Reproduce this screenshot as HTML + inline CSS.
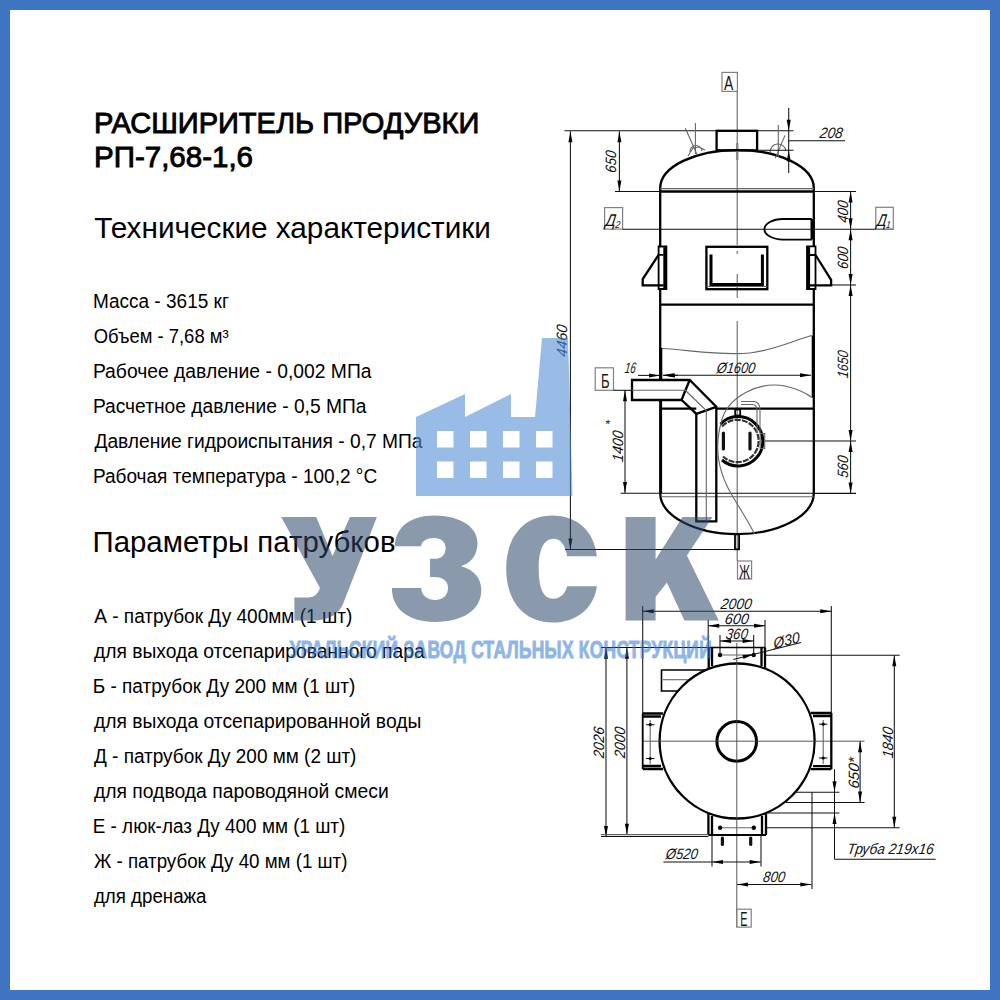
<!DOCTYPE html>
<html><head><meta charset="utf-8">
<style>
html,body{margin:0;padding:0;background:#fff;}
body{width:1000px;height:1000px;overflow:hidden;position:relative;}
.frame{position:absolute;left:0;top:0;width:980px;height:980px;border:10px solid #3e74c0;}
svg{position:absolute;left:0;top:0;}
#drawing .k{fill:none;stroke:#000;stroke-width:2.3;}
#drawing .kk{fill:none;stroke:#000;stroke-width:3;}
#drawing .k2{fill:none;stroke:#000;stroke-width:1.8;}
#drawing .t{fill:none;stroke:#111;stroke-width:1.05;}
#drawing .t2{fill:none;stroke:#000;stroke-width:1.6;}
#drawing .g{fill:none;stroke:#666;stroke-width:1.1;}
#drawing .gd{fill:none;stroke:#777;stroke-width:1;stroke-dasharray:4 2;}
#drawing .gk{fill:none;stroke:#888;stroke-width:2.5;}
#drawing .hh{fill:none;stroke:#111;stroke-width:3.2;stroke-linecap:round;}
#drawing .gd2{fill:none;stroke:#333;stroke-width:2.2;stroke-dasharray:6 1.2;}
#drawing .ax{fill:none;stroke:#444;stroke-width:0.9;}
#drawing .lb{fill:none;stroke:#808080;stroke-width:1.2;}
#drawing .ar{fill:#000;stroke:none;}
#drawing .dot{fill:#000;stroke:none;}
#drawing .dt{font-family:"Liberation Sans",sans-serif;font-style:italic;fill:#111;}
#drawing .lt{font-family:"Liberation Sans",sans-serif;fill:#1a1a1a;}
</style></head>
<body>
<div class="frame"></div>
<svg width="1000" height="1000" viewBox="0 0 1000 1000">
<g font-family="Liberation Sans, sans-serif" fill="#000">
<text x="94.00" y="133.3" font-size="29" font-weight="normal" stroke="#000" stroke-width="0.9" textLength="385.35" lengthAdjust="spacingAndGlyphs">РАСШИРИТЕЛЬ ПРОДУВКИ</text>
<text x="94.00" y="167.3" font-size="29" font-weight="normal" stroke="#000" stroke-width="0.9" textLength="159.00" lengthAdjust="spacingAndGlyphs">РП-7,68-1,6</text>
<text x="94.25" y="237.8" font-size="30" textLength="396.70" lengthAdjust="spacingAndGlyphs">Технические характеристики</text>
<g font-size="19.5">
<text x="92.88" y="308.4" textLength="135.95" lengthAdjust="spacingAndGlyphs">Масса - 3615 кг</text>
<text x="93.63" y="343.4" textLength="134.95" lengthAdjust="spacingAndGlyphs">Объем - 7,68 м³</text>
<text x="92.88" y="378.4" textLength="278.65" lengthAdjust="spacingAndGlyphs">Рабочее давление - 0,002 МПа</text>
<text x="92.88" y="413.4" textLength="273.55" lengthAdjust="spacingAndGlyphs">Расчетное давление - 0,5 МПа</text>
<text x="94.38" y="448.4" textLength="328.15" lengthAdjust="spacingAndGlyphs">Давление гидроиспытания - 0,7 МПа</text>
<text x="92.88" y="483.4" textLength="284.30" lengthAdjust="spacingAndGlyphs">Рабочая температура - 100,2 °С</text>
</g>
<text x="92.50" y="552.4" font-size="30" textLength="303.00" lengthAdjust="spacingAndGlyphs">Параметры патрубков</text>
<g font-size="19.5">
<text x="94.19" y="623.4" textLength="258.15" lengthAdjust="spacingAndGlyphs">А - патрубок Ду 400мм (1 шт)</text>
<text x="93.94" y="658.4" textLength="330.70" lengthAdjust="spacingAndGlyphs">для выхода отсепарированного пара</text>
<text x="92.69" y="693.4" textLength="262.65" lengthAdjust="spacingAndGlyphs">Б - патрубок Ду 200 мм (1 шт)</text>
<text x="93.94" y="728.4" textLength="327.40" lengthAdjust="spacingAndGlyphs">для выхода отсепарированной воды</text>
<text x="93.94" y="763.4" textLength="262.50" lengthAdjust="spacingAndGlyphs">Д - патрубок Ду 200 мм (2 шт)</text>
<text x="93.94" y="798.4" textLength="294.85" lengthAdjust="spacingAndGlyphs">для подвода пароводяной смеси</text>
<text x="92.69" y="833.4" textLength="252.65" lengthAdjust="spacingAndGlyphs">Е - люк-лаз Ду 400 мм (1 шт)</text>
<text x="93.94" y="868.4" textLength="253.50" lengthAdjust="spacingAndGlyphs">Ж - патрубок Ду 40 мм (1 шт)</text>
<text x="93.94" y="903.4" textLength="112.60" lengthAdjust="spacingAndGlyphs">для дренажа</text>
</g>
</g>
<!-- DRAWING -->
<g id="drawing">
<rect class="lb" x="722" y="72.4" width="15.4" height="19"/>
<text class="lt" x="0" y="7.0" font-size="19.5" text-anchor="middle" textLength="9.3" lengthAdjust="spacingAndGlyphs" transform="translate(728.6 83) rotate(0)">А</text>
<line class="ax" x1="737.2" y1="91.4" x2="737.2" y2="245"/>
<line class="ax" x1="737.2" y1="251" x2="737.2" y2="254"/>
<line class="ax" x1="737.2" y1="274" x2="737.2" y2="298"/>
<line class="ax" x1="737.2" y1="321" x2="737.2" y2="561"/>
<line class="t" x1="564.5" y1="130.8" x2="793.5" y2="130.8"/>
<rect class="k" x="716.6" y="130.8" width="40.5" height="19.5"/>
<line class="gk" x1="737.2" y1="143" x2="737.2" y2="160"/>
<path class="k" d="M660.2,246.5 L660.2,188 A76.8,38 0 0 1 813.8,188 L813.8,246.5"/>
<line class="k" x1="660.2" y1="289" x2="660.2" y2="379"/>
<line class="k" x1="813.8" y1="289" x2="813.8" y2="493"/>
<line class="kk" x1="660.6" y1="400" x2="660.6" y2="493"/>
<path class="k" d="M660.2,493 A76.6,41 0 0 0 813.8,493"/>
<line class="k" x1="660.2" y1="191.5" x2="813.8" y2="191.5"/>
<line class="t" x1="615" y1="191.5" x2="660.2" y2="191.5"/>
<line class="t" x1="813.8" y1="191.5" x2="856" y2="191.5"/>
<line class="g" x1="660.2" y1="188.6" x2="813.8" y2="188.6"/>
<line class="t" x1="619.4" y1="131.2" x2="619.4" y2="191.5"/>
<path class="ar" d="M619.4,131.2 L621.4,142.2 L617.4,142.2 Z"/>
<path class="ar" d="M619.4,191.5 L617.4,180.5 L621.4,180.5 Z"/>
<text class="dt" x="0" y="5.4" font-size="15" text-anchor="middle" textLength="22" lengthAdjust="spacingAndGlyphs" transform="translate(611 161.4) rotate(-90) skewX(-8)">650</text>
<line class="t" x1="570.4" y1="131.2" x2="570.4" y2="549.5"/>
<path class="ar" d="M570.4,131.2 L572.4,142.2 L568.4,142.2 Z"/>
<path class="ar" d="M570.4,549.5 L568.4,538.5 L572.4,538.5 Z"/>
<text class="dt" x="0" y="5.4" font-size="15" text-anchor="middle" textLength="32" lengthAdjust="spacingAndGlyphs" transform="translate(562 340.4) rotate(-90) skewX(-8)">4460</text>
<line class="t" x1="565" y1="549.5" x2="739" y2="549.5"/>
<rect class="lb" x="604.6" y="207.6" width="18" height="21.5"/>
<text class="dt" x="0" y="6.1" font-size="17" text-anchor="middle" textLength="15" lengthAdjust="spacingAndGlyphs" transform="translate(613.3 219.6) rotate(0) skewX(-8)">Д<tspan font-size="10" dy="2">2</tspan></text>
<line class="t" x1="622.6" y1="229.3" x2="893.3" y2="229.3"/>
<rect class="lb" x="875.8" y="207.3" width="17.5" height="22"/>
<text class="dt" x="0" y="6.1" font-size="17" text-anchor="middle" textLength="14" lengthAdjust="spacingAndGlyphs" transform="translate(884.3 219.6) rotate(0) skewX(-8)">Д<tspan font-size="10" dy="2">1</tspan></text>
<path class="k2" d="M811.8,219 H783 A18.6,10.3 0 0 0 783,239.6 H811.8"/>
<line class="kk" x1="812" y1="219" x2="812" y2="239.6"/>
<line class="t" x1="850.6" y1="191.5" x2="850.6" y2="493.5"/>
<path class="ar" d="M850.6,191.5 L852.6,202.5 L848.6,202.5 Z"/>
<path class="ar" d="M850.6,229.3 L848.6,218.3 L852.6,218.3 Z"/>
<path class="ar" d="M850.6,229.3 L852.6,240.3 L848.6,240.3 Z"/>
<path class="ar" d="M850.6,285.0 L848.6,274.0 L852.6,274.0 Z"/>
<path class="ar" d="M850.6,285.0 L852.6,296.0 L848.6,296.0 Z"/>
<path class="ar" d="M850.6,441.0 L848.6,430.0 L852.6,430.0 Z"/>
<path class="ar" d="M850.6,441.0 L852.6,452.0 L848.6,452.0 Z"/>
<path class="ar" d="M850.6,493.5 L848.6,482.5 L852.6,482.5 Z"/>
<text class="dt" x="0" y="5.4" font-size="15" text-anchor="middle" textLength="22" lengthAdjust="spacingAndGlyphs" transform="translate(842.3 211.5) rotate(-90) skewX(-8)">400</text>
<text class="dt" x="0" y="5.4" font-size="15" text-anchor="middle" textLength="22" lengthAdjust="spacingAndGlyphs" transform="translate(842.3 257.7) rotate(-90) skewX(-8)">600</text>
<text class="dt" x="0" y="5.4" font-size="15" text-anchor="middle" textLength="27.5" lengthAdjust="spacingAndGlyphs" transform="translate(842.5 364) rotate(-90) skewX(-8)">1650</text>
<text class="dt" x="0" y="5.4" font-size="15" text-anchor="middle" textLength="22" lengthAdjust="spacingAndGlyphs" transform="translate(842.3 466.5) rotate(-90) skewX(-8)">560</text>
<line class="t" x1="831" y1="285" x2="856" y2="285"/>
<line class="t" x1="765" y1="441" x2="856" y2="441"/>
<line class="t" x1="814" y1="493.5" x2="856" y2="493.5"/>
<path class="k2" d="M658.6,246.5 H666.4 V289 H658.6 Z M658.6,254.8 H663.5"/>
<line class="kk" x1="664.8" y1="247.2" x2="664.8" y2="288.3"/>
<path class="k" d="M658.6,254.8 L642.7,279.2 V285.4 H663.5"/>
<path class="k2" d="M807,246.4 H815.5 V289 H807 Z M810,255 H815.5"/>
<line class="kk" x1="808.6" y1="247.1" x2="808.6" y2="288.3"/>
<path class="k" d="M815.5,255 L831.1,279.9 V285.4 H810"/>
<rect class="k" x="706.4" y="246.8" width="60.9" height="42.4"/>
<path class="kk" d="M711,254.5 V284.4 H762.4 V254.5"/>
<line class="g" x1="706.4" y1="286.5" x2="767.3" y2="286.5"/>
<line class="k" x1="660.2" y1="304.6" x2="813.8" y2="304.6"/>
<path class="g" d="M662,348.5 C690,350 720,356 750,353 C775,350 795,340 811.5,335.5"/>
<line class="kk" x1="660.8" y1="348" x2="660.8" y2="379"/>
<line class="kk" x1="813.2" y1="335.5" x2="813.2" y2="397.5"/>
<line class="t" x1="662.8" y1="375.2" x2="811" y2="375.2"/>
<path class="ar" d="M662.8,375.2 L673.8,373.2 L673.8,377.2 Z"/>
<path class="ar" d="M811.0,375.2 L800.0,377.2 L800.0,373.2 Z"/>
<text class="dt" x="0" y="5.4" font-size="15" text-anchor="middle" textLength="38.5" lengthAdjust="spacingAndGlyphs" transform="translate(736.2 367.5) rotate(0) skewX(-8)">Ø1600</text>
<line class="t" x1="638" y1="375.4" x2="660" y2="375.4"/>
<path class="ar" d="M660.0,375.4 L649.0,377.4 L649.0,373.4 Z"/>
<line class="t" x1="664" y1="375.4" x2="678" y2="375.4"/>
<path class="ar" d="M664.0,375.4 L675.0,373.4 L675.0,377.4 Z"/>
<text class="dt" x="0" y="5.4" font-size="15" text-anchor="middle" textLength="11" lengthAdjust="spacingAndGlyphs" transform="translate(630.5 367.8) rotate(0) skewX(-8)">16</text>
<rect class="lb" x="595.2" y="367.8" width="18.3" height="22.5"/>
<text class="lt" x="0" y="7.6" font-size="21" text-anchor="middle" textLength="8.6" lengthAdjust="spacingAndGlyphs" transform="translate(605.3 380.3) rotate(0)">Б</text>
<line class="t" x1="613.5" y1="390.3" x2="631" y2="390.3"/>
<line class="t" x1="625" y1="390.3" x2="625" y2="493"/>
<path class="ar" d="M625.0,390.3 L627.0,401.3 L623.0,401.3 Z"/>
<path class="ar" d="M625.0,493.0 L623.0,482.0 L627.0,482.0 Z"/>
<text class="dt" x="0" y="5.4" font-size="15" text-anchor="middle" textLength="31" lengthAdjust="spacingAndGlyphs" transform="translate(618 446) rotate(-90) skewX(-8)">1400</text>
<text class="dt" x="0" y="4.3" font-size="12" text-anchor="middle" textLength="5" lengthAdjust="spacingAndGlyphs" transform="translate(607 424) rotate(0) skewX(-8)">*</text>
<line class="t" x1="620.6" y1="493.3" x2="856" y2="493.3"/>
<line class="g" x1="661" y1="496.8" x2="813.8" y2="496.8"/>
<path class="k" d="M632,380 H689.7 L716.3,406.8 V521.3 H696.3 V413.8 L681.5,400 H632 Z M689.7,380 L681.5,400 M716.3,406.8 L696.3,413.8"/>
<line class="g" x1="632" y1="390.2" x2="685" y2="390.2"/>
<path class="g" d="M685,390 L706.3,410.5 V521"/>
<line class="k" x1="661" y1="408.6" x2="696.3" y2="408.6"/>
<line class="k" x1="716.3" y1="408.6" x2="813.8" y2="408.6"/>
<path class="kk" d="M720.5,424 A24.7,24.7 0 1 1 722,460"/>
<path class="gd2" d="M722,426.5 A21.2,21.2 0 1 1 723,456.5"/>
<rect class="k2" x="735.2" y="409.5" width="5" height="6"/>
<line class="hh" x1="723.4" y1="433" x2="723.4" y2="449"/>
<line class="hh" x1="750" y1="433" x2="750" y2="449"/>
<rect class="g" x="760.2" y="433.5" width="4.5" height="15"/>
<path class="g" d="M741,401.5 H754 Q760,402 760,410 V433 M741,404.5 H753 Q757,405 757,411 V433"/>
<path class="g" d="M721.5,421 C728,396 760,381 785,386 C798,389 806,393 811.8,397.5"/>
<path class="g" d="M722,420 C714,445 716,470 733.8,498.3 C742,512 750,524 754.4,534"/>
<rect class="k2" x="735" y="534" width="4.1" height="15.3"/>
<rect class="lb" x="737.5" y="561" width="14.1" height="18"/>
<text class="lt" x="0" y="7.2" font-size="20" text-anchor="middle" textLength="11" lengthAdjust="spacingAndGlyphs" transform="translate(744.5 571.5) rotate(0)">Ж</text>
<line class="g" x1="695.4" y1="123" x2="695.4" y2="154"/>
<line class="g" x1="685.3" y1="128.2" x2="697.3" y2="154.9"/>
<path class="g" d="M690,152 A6,6 0 0 1 702,151 M688,156 L693,148 L699,147 L705,150"/>
<line class="g" x1="778.3" y1="125" x2="778.3" y2="157"/>
<line class="g" x1="785" y1="135.4" x2="775.3" y2="158.1"/>
<path class="g" d="M770,153 A8,8 0 0 1 786,151"/>
<line class="t" x1="788.7" y1="108" x2="788.7" y2="173"/>
<path class="ar" d="M788.7,130.8 L786.7,119.8 L790.7,119.8 Z"/>
<path class="ar" d="M788.7,150.3 L790.7,161.3 L786.7,161.3 Z"/>
<line class="t" x1="757.1" y1="150.3" x2="793.5" y2="150.3"/>
<line class="t" x1="788.7" y1="140.8" x2="845" y2="140.8"/>
<text class="dt" x="0" y="5.4" font-size="15" text-anchor="middle" textLength="23" lengthAdjust="spacingAndGlyphs" transform="translate(831.5 132.8) rotate(0) skewX(-8)">208</text>
<circle class="k" cx="737.1" cy="741" r="77.5"/>
<circle class="kk" cx="736.7" cy="741.4" r="19.8"/>
<line class="ax" x1="642" y1="741.2" x2="864.6" y2="741.2"/>
<line class="ax" x1="736.8" y1="643" x2="736.8" y2="926.8"/>
<line class="t2" x1="708.7" y1="647.5" x2="765" y2="647.5"/>
<path class="k" d="M708.7,668 V647.5 M765,647.5 V668 M712,647.5 V666 M761.5,647.5 V666"/>
<line class="g" x1="720" y1="655" x2="753.7" y2="655"/>
<circle class="dot" cx="720" cy="655" r="2.2"/>
<circle class="dot" cx="753.7" cy="655" r="2.2"/>
<line class="k2" x1="708.4" y1="835" x2="766" y2="835"/>
<path class="k" d="M708.4,814 V835 M766,835 V814 M712,816 V835 M762,816 V835"/>
<line class="g" x1="720.1" y1="827.8" x2="753.8" y2="827.8"/>
<circle class="dot" cx="720.1" cy="827.8" r="2.2"/>
<circle class="dot" cx="753.8" cy="827.8" r="2.2"/>
<line class="hh" x1="722.4" y1="838" x2="722.4" y2="844.5"/>
<line class="hh" x1="750.7" y1="838" x2="750.7" y2="844.5"/>
<path class="k" d="M663,713.5 H642.7 M642.7,769 H663 M642.7,716.5 H661 M642.7,766 H661"/>
<line class="k2" x1="642.7" y1="713.5" x2="642.7" y2="769"/>
<line class="g" x1="650.2" y1="720" x2="650.2" y2="764"/>
<line class="t" x1="646" y1="724.7" x2="654.5" y2="724.7"/>
<line class="t" x1="646" y1="758.5" x2="654.5" y2="758.5"/>
<circle class="dot" cx="650.2" cy="724.7" r="1.6"/>
<circle class="dot" cx="650.2" cy="758.5" r="1.6"/>
<path class="k" d="M810.6,713 H831.3 M831.3,769.2 H810.6 M813,716 H831.3 M813,766.2 H831.3"/>
<line class="k" x1="831.3" y1="713" x2="831.3" y2="769.2"/>
<line class="g" x1="823.2" y1="720" x2="823.2" y2="764"/>
<line class="t" x1="819" y1="724.2" x2="827.5" y2="724.2"/>
<line class="t" x1="819" y1="758" x2="827.5" y2="758"/>
<circle class="dot" cx="823.2" cy="724.2" r="1.6"/>
<circle class="dot" cx="823.2" cy="758" r="1.6"/>
<path class="t2" d="M706,670 H661.5 V691 H678"/>
<line class="g" x1="663" y1="679.7" x2="688" y2="679.7"/>
<line class="t" x1="795.3" y1="792.2" x2="839.4" y2="792.2"/>
<line class="t" x1="785.4" y1="802.5" x2="864.6" y2="802.5"/>
<line class="t" x1="767.8" y1="813" x2="839.4" y2="813"/>
<line class="t" x1="812" y1="792.2" x2="812" y2="889"/>
<line class="t" x1="642.7" y1="606" x2="642.7" y2="714.8"/>
<line class="t" x1="831.3" y1="606" x2="831.3" y2="713"/>
<line class="t" x1="642.7" y1="611.2" x2="831.3" y2="611.2"/>
<path class="ar" d="M642.7,611.2 L653.7,609.2 L653.7,613.2 Z"/>
<path class="ar" d="M831.3,611.2 L820.3,613.2 L820.3,609.2 Z"/>
<text class="dt" x="0" y="5.4" font-size="15" text-anchor="middle" textLength="31" lengthAdjust="spacingAndGlyphs" transform="translate(736.5 603.5) rotate(0) skewX(-8)">2000</text>
<line class="t" x1="708.2" y1="620" x2="708.2" y2="648"/>
<line class="t" x1="765" y1="620" x2="765" y2="648"/>
<line class="t" x1="708.2" y1="625.8" x2="765" y2="625.8"/>
<path class="ar" d="M708.2,625.8 L719.2,623.8 L719.2,627.8 Z"/>
<path class="ar" d="M765.0,625.8 L754.0,627.8 L754.0,623.8 Z"/>
<text class="dt" x="0" y="5.4" font-size="15" text-anchor="middle" textLength="24" lengthAdjust="spacingAndGlyphs" transform="translate(737 618.5) rotate(0) skewX(-8)">600</text>
<line class="t" x1="720" y1="635" x2="720" y2="655"/>
<line class="t" x1="753.7" y1="635" x2="753.7" y2="655"/>
<line class="t" x1="720" y1="641" x2="753.7" y2="641"/>
<path class="ar" d="M720.0,641.0 L731.0,639.0 L731.0,643.0 Z"/>
<path class="ar" d="M753.7,641.0 L742.7,643.0 L742.7,639.0 Z"/>
<text class="dt" x="0" y="5.4" font-size="15" text-anchor="middle" textLength="22" lengthAdjust="spacingAndGlyphs" transform="translate(737 633.8) rotate(0) skewX(-8)">360</text>
<line class="t" x1="733.4" y1="659.5" x2="801" y2="642.4"/>
<path class="ar" d="M753.7,654.3 L743.5,659.0 L742.5,655.1 Z"/>
<text class="dt" x="0" y="5.4" font-size="15" text-anchor="middle" textLength="27" lengthAdjust="spacingAndGlyphs" transform="translate(786.5 640) rotate(-14) skewX(-8)">Ø30</text>
<line class="t" x1="601" y1="647.4" x2="709" y2="647.4"/>
<line class="t" x1="765" y1="655.3" x2="899.7" y2="655.3"/>
<line class="t" x1="894.3" y1="655.3" x2="894.3" y2="827.7"/>
<path class="ar" d="M894.3,655.3 L896.3,666.3 L892.3,666.3 Z"/>
<path class="ar" d="M894.3,827.7 L892.3,816.7 L896.3,816.7 Z"/>
<text class="dt" x="0" y="5.4" font-size="15" text-anchor="middle" textLength="31" lengthAdjust="spacingAndGlyphs" transform="translate(888 742.2) rotate(-90) skewX(-8)">1840</text>
<line class="t" x1="766" y1="827.8" x2="899.7" y2="827.8"/>
<line class="t" x1="860.1" y1="741.3" x2="860.1" y2="802.5"/>
<path class="ar" d="M860.1,741.3 L862.1,752.3 L858.1,752.3 Z"/>
<path class="ar" d="M860.1,802.5 L858.1,791.5 L862.1,791.5 Z"/>
<text class="dt" x="0" y="5.4" font-size="15" text-anchor="middle" textLength="31" lengthAdjust="spacingAndGlyphs" transform="translate(853.8 772.8) rotate(-90) skewX(-8)">650*</text>
<line class="t" x1="834.5" y1="769.2" x2="834.5" y2="859.2"/>
<path class="ar" d="M834.5,792.2 L832.5,781.2 L836.5,781.2 Z"/>
<path class="ar" d="M834.5,813.0 L836.5,824.0 L832.5,824.0 Z"/>
<line class="t" x1="834.5" y1="859.2" x2="935.7" y2="859.2"/>
<text class="dt" x="0" y="5.4" font-size="15" text-anchor="middle" textLength="86.4" lengthAdjust="spacingAndGlyphs" transform="translate(890.7 848.5) rotate(0) skewX(-8)">Труба  219х16</text>
<line class="t" x1="606" y1="647.7" x2="606" y2="836.9"/>
<path class="ar" d="M606.0,647.7 L608.0,658.7 L604.0,658.7 Z"/>
<path class="ar" d="M606.0,836.9 L604.0,825.9 L608.0,825.9 Z"/>
<text class="dt" x="0" y="5.4" font-size="15" text-anchor="middle" textLength="31" lengthAdjust="spacingAndGlyphs" transform="translate(598.7 742.3) rotate(-90) skewX(-8)">2026</text>
<line class="t" x1="626.9" y1="647.7" x2="626.9" y2="834.7"/>
<path class="ar" d="M626.9,647.7 L628.9,658.7 L624.9,658.7 Z"/>
<path class="ar" d="M626.9,834.7 L624.9,823.7 L628.9,823.7 Z"/>
<text class="dt" x="0" y="5.4" font-size="15" text-anchor="middle" textLength="31" lengthAdjust="spacingAndGlyphs" transform="translate(619.6 742.3) rotate(-90) skewX(-8)">2000</text>
<line class="t" x1="601" y1="836.4" x2="708.4" y2="836.4"/>
<line class="g" x1="601" y1="834.6" x2="708.4" y2="834.6"/>
<line class="t" x1="663.4" y1="862" x2="760.6" y2="862"/>
<path class="ar" d="M712.0,862.0 L723.0,860.0 L723.0,864.0 Z"/>
<path class="ar" d="M760.6,862.0 L749.6,864.0 L749.6,860.0 Z"/>
<line class="t" x1="712" y1="836" x2="712" y2="866.5"/>
<line class="t" x1="761" y1="836" x2="761" y2="866.5"/>
<text class="dt" x="0" y="5.4" font-size="15" text-anchor="middle" textLength="32" lengthAdjust="spacingAndGlyphs" transform="translate(682 854) rotate(0) skewX(-8)">Ø520</text>
<line class="t" x1="737" y1="884.5" x2="811.3" y2="884.5"/>
<path class="ar" d="M737.0,884.5 L748.0,882.5 L748.0,886.5 Z"/>
<path class="ar" d="M811.3,884.5 L800.3,886.5 L800.3,882.5 Z"/>
<text class="dt" x="0" y="5.4" font-size="15" text-anchor="middle" textLength="22" lengthAdjust="spacingAndGlyphs" transform="translate(774.3 876.8) rotate(0) skewX(-8)">800</text>
<rect class="lb" x="736.7" y="909.2" width="14.5" height="17.9"/>
<text class="lt" x="0" y="7.6" font-size="21" text-anchor="middle" textLength="7.2" lengthAdjust="spacingAndGlyphs" transform="translate(743.8 918.4) rotate(0)">Е</text>
</g>
<!-- LOGO -->
<g id="logo">
<path fill="#538fd5" fill-opacity="0.6" fill-rule="evenodd" d="M416,496 L416,417 L465,394 L465,417 L511,394 L511,417 L535,417 L542,338 L568,338 L572.5,496 Z M437,431 h16.5 v16.5 h-16.5 Z M470,431 h16.5 v16.5 h-16.5 Z M503,431 h16.5 v16.5 h-16.5 Z M536,431 h16.5 v16.5 h-16.5 Z M437,461.5 h16.5 v16.5 h-16.5 Z M470,461.5 h16.5 v16.5 h-16.5 Z M503,461.5 h16.5 v16.5 h-16.5 Z M536,461.5 h16.5 v16.5 h-16.5 Z"/>
<g fill="#2a4668" fill-opacity="0.55">
<path d="M281.2,517.1 L316.2,517.1 L332.5,556 L350,517.1 L376.9,517.1 L343,604 Q336,620.5 312,620.5 L294.4,620.5 L294.4,597.5 L309,597.5 Q317,597 320,588 Z"/>
<path d="M395,546.2 C395,528 410,515.6 434,515.6 C460,515.6 477.5,527 477.5,543 C477.5,555 471,563 461,566.3 C474,570 481.3,578 481.3,590 C481.3,610 463,621.9 435,621.9 C408,621.9 391.9,609 391.9,588.1 L421.2,588.1 C421.5,596 428,600 435,600 C443,600 448,595 448,588 C448,581 443,577 435,577 L430,577 L430,558.7 L436,558.7 C442,558.7 445.6,554 445.6,548 C445.6,542 441,538.1 434,538.1 C427,538.1 421.2,541.5 421.2,546.2 Z"/>
<path d="M596.9,556.2 C594,530 576,515.6 552.5,515.6 C523,515.6 506.2,538 506.2,568.7 C506.2,600 523,622.5 552.5,622.5 C577,622.5 594,608 596.9,586.2 L567.2,586.2 C565,594 560,598.7 553,598.7 C543,598.7 538.7,587 538.7,568.7 C538.7,551 543,538.7 553.7,538.7 C560,538.7 565,544 567.2,556.2 Z"/>
<path d="M625.6,517.1 L655.6,517.1 L655.6,559.4 L682.5,517.1 L712.5,517.1 L686.9,555.6 L718.8,620.6 L684.4,620.6 L666.9,582.5 L655.6,596.9 L655.6,620.6 L625.6,620.6 Z"/>
</g>
<g opacity="0.55"><text transform="scale(0.74 1)" x="391.4" y="657.6" font-family="Liberation Sans, sans-serif" font-weight="bold" font-size="23.5" fill="#3379d4" stroke="#3379d4" stroke-width="1" textLength="570.3" lengthAdjust="spacing">УРАЛЬСКИЙ ЗАВОД СТАЛЬНЫХ КОНСТРУКЦИЙ</text></g>
</g>
</svg>
</body></html>
